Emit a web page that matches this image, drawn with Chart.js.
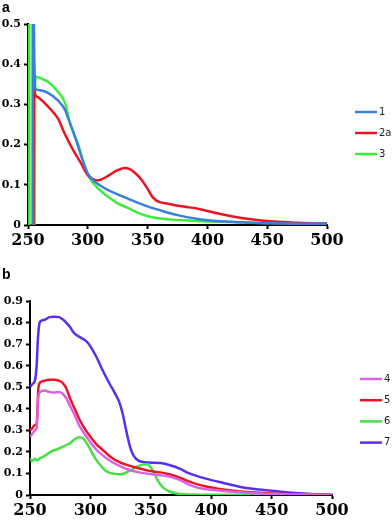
<!DOCTYPE html>
<html>
<head>
<meta charset="utf-8">
<script src="https://cdn.jsdelivr.net/npm/chart.js@4.4.0/dist/chart.umd.min.js"></script>
<style>
  body { margin: 0; background: #fff; }
  #wrap { position: relative; width: 392px; height: 521px; }
  .panel { position: absolute; left: 0; }
  .tag { position: absolute; left: 2px; font: bold 14px "Liberation Sans", Arial, sans-serif; color: #000; }
</style>
</head>
<body>
<div id="wrap">
  <div class="panel" style="top:0"><canvas id="chartA" width="392" height="258"></canvas></div>
  <div class="panel" style="top:260px"><canvas id="chartB" width="392" height="261"></canvas></div>
  <div class="tag" style="top:-1px">a</div>
  <div class="tag" style="top:266px">b</div>
</div>
<script>
// panel a
const labelsA = ['1', '2a', '3'];
const wl1 = [253.8, 254, 255.8, 260, 267, 275, 281, 284, 288, 292, 296, 300, 305, 310, 317, 325, 334, 342, 351, 360, 368, 376, 384, 392, 400, 420, 440, 460, 480, 500];
const abs1 = [-0.05, 0.7, 0.34, 0.335, 0.328, 0.31, 0.286, 0.262, 0.23, 0.195, 0.158, 0.128, 0.11, 0.099, 0.087, 0.076, 0.065, 0.055, 0.045, 0.037, 0.03, 0.024, 0.019, 0.015, 0.012, 0.008, 0.005, 0.004, 0.003, 0.003];
const wl2a = [254.5, 255, 255.6, 257, 260, 267, 275, 281, 288, 294, 300, 304, 308, 312, 318, 324, 328, 331, 335, 340, 345, 350, 354, 359, 365, 372, 380, 393, 400, 410, 420, 430, 440, 450, 460, 470, 480, 490, 500];
const abs2a = [-0.05, 0.405, 0.33, 0.32, 0.314, 0.294, 0.265, 0.225, 0.185, 0.155, 0.124, 0.115, 0.111, 0.114, 0.124, 0.135, 0.14, 0.142, 0.139, 0.128, 0.112, 0.09, 0.07, 0.058, 0.054, 0.05, 0.046, 0.04, 0.035, 0.028, 0.022, 0.017, 0.013, 0.01, 0.008, 0.006, 0.005, 0.004, 0.004];
const wl3 = [251, 251.2, 255.5, 256, 257, 262, 267, 274, 281, 285, 288, 292, 296, 300, 304, 309, 317, 325, 334, 342, 351, 360, 368, 384, 400, 425, 450, 475, 500];
const abs3 = [0.7, -0.05, -0.05, 0.35, 0.369, 0.363, 0.356, 0.335, 0.303, 0.255, 0.23, 0.2, 0.16, 0.126, 0.106, 0.09, 0.07, 0.054, 0.042, 0.03, 0.021, 0.016, 0.014, 0.011, 0.009, 0.007, 0.005, 0.004, 0.003];

// panel b
const labelsB = ['4', '5', '6', '7'];
const wl4 = [250, 252, 254, 255.5, 257, 259, 262, 266, 270, 274, 277, 280, 283, 287, 291, 295, 300, 305, 310, 316, 324, 333, 340, 349, 358, 366, 374, 382, 391, 400, 410, 420, 430, 440, 450, 460, 470, 480, 490, 500];
const abs4 = [0.27, 0.285, 0.3, 0.31, 0.46, 0.48, 0.485, 0.478, 0.475, 0.478, 0.47, 0.45, 0.415, 0.37, 0.32, 0.285, 0.245, 0.21, 0.185, 0.16, 0.135, 0.115, 0.105, 0.097, 0.092, 0.085, 0.07, 0.047, 0.031, 0.024, 0.019, 0.014, 0.01, 0.007, 0.004, 0.003, 0.002, 0.002, 0.001, 0.001];
const wl5 = [250, 252, 254, 255.5, 257, 259, 262, 266, 270, 274, 277, 280, 283, 287, 291, 295, 300, 305, 310, 316, 324, 333, 340, 349, 358, 366, 374, 382, 391, 400, 410, 420, 430, 440, 450, 460, 470, 480, 490, 500];
const abs5 = [0.3, 0.31, 0.325, 0.33, 0.5, 0.525, 0.53, 0.535, 0.535, 0.53, 0.52, 0.495, 0.45, 0.4, 0.35, 0.31, 0.27, 0.235, 0.21, 0.18, 0.152, 0.135, 0.124, 0.112, 0.105, 0.095, 0.08, 0.062, 0.046, 0.035, 0.026, 0.019, 0.014, 0.01, 0.007, 0.005, 0.004, 0.003, 0.002, 0.001];
const wl6 = [250, 252, 254, 256, 258, 262, 267, 275, 283, 288, 291, 294, 297, 300, 304, 308, 312, 316, 320, 324, 328, 333, 338, 343, 347, 350, 353, 356, 360, 366, 374, 385, 400, 450, 500];
const abs6 = [0.17, 0.158, 0.168, 0.16, 0.17, 0.18, 0.2, 0.218, 0.24, 0.262, 0.268, 0.262, 0.24, 0.21, 0.17, 0.14, 0.115, 0.103, 0.098, 0.096, 0.1, 0.114, 0.13, 0.141, 0.143, 0.128, 0.1, 0.065, 0.035, 0.015, 0.005, 0.002, 0.001, 0.001, 0.001];
const wl7 = [250, 252, 254, 255.5, 256.5, 258, 260, 263, 266, 270, 274, 277, 280, 283, 286, 289, 292, 295, 298, 301, 305, 310, 316, 320, 324, 327, 330, 333, 336, 340, 345, 350, 358, 366, 374, 382, 391, 401, 410, 420, 429, 440, 450, 460, 473, 485, 500];
const abs7 = [0.5, 0.515, 0.53, 0.6, 0.72, 0.8, 0.81, 0.815, 0.825, 0.827, 0.825, 0.815, 0.8, 0.78, 0.755, 0.74, 0.73, 0.72, 0.705, 0.68, 0.64, 0.58, 0.515, 0.475, 0.43, 0.37, 0.29, 0.22, 0.18, 0.158, 0.152, 0.15, 0.148, 0.138, 0.122, 0.1, 0.083, 0.068, 0.056, 0.043, 0.032, 0.025, 0.02, 0.014, 0.008, 0.004, 0.002];

const xTicks = { min: 250, max: 500, step: 50 };

function pts(xs, ys) {
  return xs.map((x, i) => ({ x, y: ys[i] }));
}

function serie(label, xs, ys, color) {
  return {
    label,
    data: pts(xs, ys),
    borderColor: color,
    borderWidth: 2.5,
    pointRadius: 0,
    cubicInterpolationMode: 'monotone',
    fill: false
  };
}

// leyenda de lineas a la derecha
const lineLegend = {
  id: 'lineLegend',
  afterDraw(chart, args, opts) {
    const ctx = chart.ctx;
    ctx.save();
    chart.data.datasets.forEach((ds, i) => {
      const y = opts.top + i * opts.gap;
      ctx.strokeStyle = ds.borderColor;
      ctx.lineWidth = 2.5;
      ctx.beginPath();
      ctx.moveTo(opts.left, y);
      ctx.lineTo(opts.left + 22, y);
      ctx.stroke();
      ctx.fillStyle = '#222';
      ctx.font = '10px "DejaVu Sans", sans-serif';
      ctx.textBaseline = 'middle';
      ctx.fillText(ds.label, opts.left + 24, y);
    });
    ctx.restore();
  }
};

function opciones(yMax, pad, yWidth, xHeight, legend) {
  const axisFont = (size) => ({ family: '"DejaVu Serif", serif', weight: 'bold', size });
  return {
    responsive: false,
    animation: false,
    devicePixelRatio: 1,
    layout: { padding: pad },
    plugins: {
      legend: { display: false },
      tooltip: { enabled: false },
      lineLegend: legend
    },
    scales: {
      x: {
        type: 'linear',
        min: xTicks.min,
        max: xTicks.max,
        ticks: { stepSize: xTicks.step, color: '#000', font: axisFont(16), padding: 2, maxRotation: 0 },
        grid: { drawOnChartArea: false, drawTicks: true, tickLength: 4, tickColor: '#000', tickWidth: 2 },
        border: { color: '#000', width: 2 },
        afterFit: (s) => { s.height = xHeight; }
      },
      y: {
        min: 0,
        max: yMax,
        ticks: { stepSize: 0.1, color: '#000', font: axisFont(11), padding: 3 },
        grid: { drawOnChartArea: false, drawTicks: true, tickLength: 4, tickColor: '#000', tickWidth: 2 },
        border: { color: '#000', width: 2 },
        afterFit: (s) => { s.width = yWidth; }
      }
    }
  };
}

new Chart(document.getElementById('chartA'), {
  type: 'line',
  data: {
    datasets: [
      serie(labelsA[0], wl1, abs1, '#3a7fe0'),
      serie(labelsA[1], wl2a, abs2a, '#ec1424'),
      serie(labelsA[2], wl3, abs3, '#3cec3c')
    ]
  },
  options: opciones(0.5, { top: 24, right: 65, bottom: 3, left: 0 }, 28, 30, { left: 355, top: 112, gap: 21 }),
  plugins: [lineLegend]
});

new Chart(document.getElementById('chartB'), {
  type: 'line',
  data: {
    datasets: [
      serie(labelsB[0], wl4, abs4, '#d764e4'),
      serie(labelsB[1], wl5, abs5, '#ee1426'),
      serie(labelsB[2], wl6, abs6, '#44e044'),
      serie(labelsB[3], wl7, abs7, '#5a2ef0')
    ]
  },
  options: opciones(0.9, { top: 41, right: 60, bottom: 0, left: 0 }, 30, 26, { left: 360, top: 119, gap: 21.2 }),
  plugins: [lineLegend]
});
</script>
</body>
</html>
